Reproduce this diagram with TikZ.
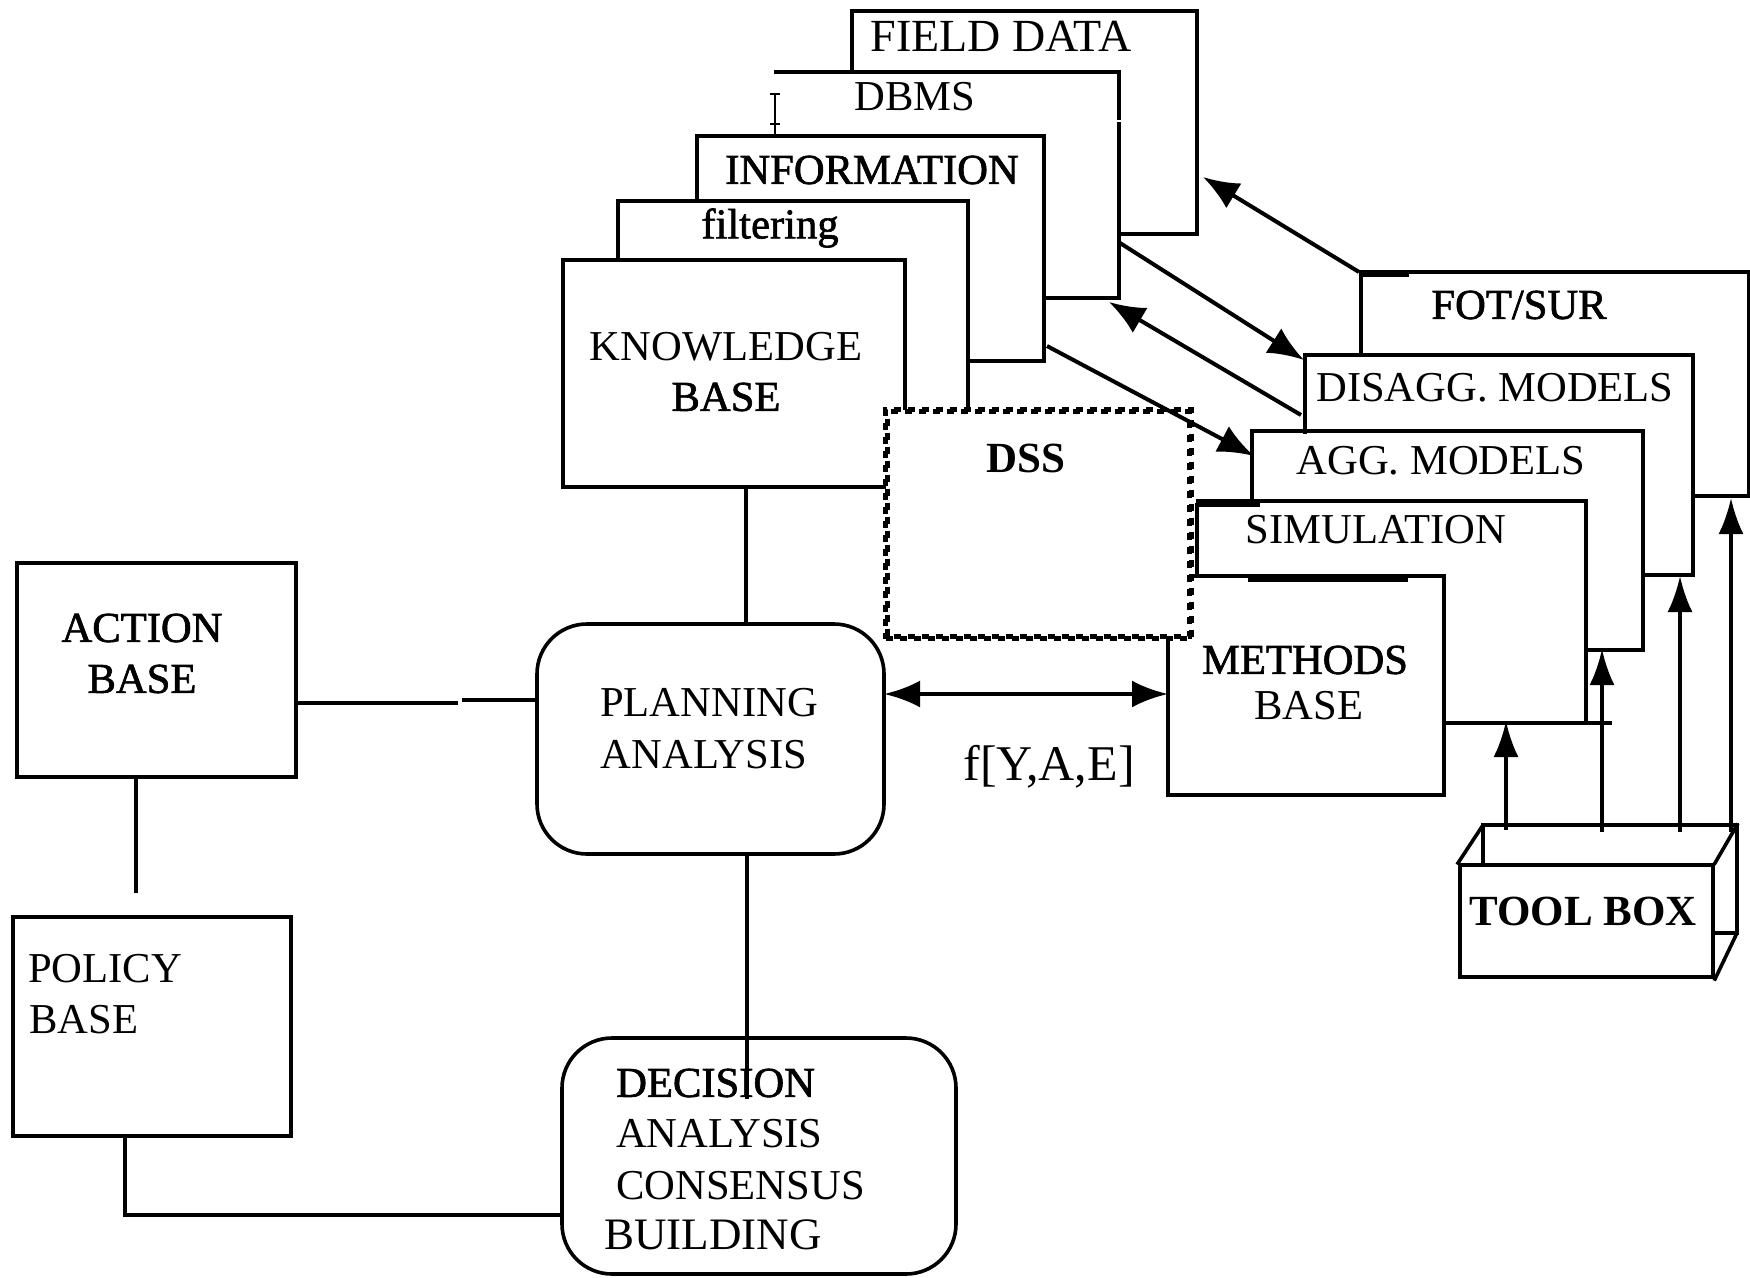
\documentclass[tikz,border=0pt]{standalone}
\usepackage{fontspec}
\setmainfont{Liberation Serif}
\newfontfamily\semibold[FakeBold=1.5]{Liberation Serif}
\usetikzlibrary{arrows.meta}
\tikzset{
  ln/.style={line width=3.6pt,line cap=rect,line join=miter},
  thin ln/.style={line width=2.5pt,line cap=rect},
  thick ln/.style={line width=4.6pt,line cap=rect,line join=miter},
  rectbox/.style={draw,line width=4pt,inner sep=0pt},
  roundbox/.style={draw,line width=3.6pt,rounded corners=50pt,inner sep=0pt},
  arr/.style={line width=4pt,-{Latex[length=36pt,width=29pt]}},
  uparr/.style={line width=3.6pt,-{Latex[length=36pt,width=25pt]}},
  lbl/.style={inner sep=0pt,font=\fontsize{42.6}{50}\selectfont},
  lblw/.style={lbl,font=\fontsize{42.6}{50}\selectfont\semibold},
  lblb/.style={lbl,font=\fontsize{43}{50}\selectfont\bfseries},
  checker/.style={line width=4.8pt,dash pattern=on 7pt off 7pt},
}
\begin{document}
\begin{tikzpicture}[x=1pt,y=-1pt]
\useasboundingbox (0,0) rectangle (1750,1277);
% stacked sheets, back part
\draw[ln] (852,71) -- (852,11) -- (1197,11) -- (1197,234) -- (1120,234);
\draw[ln] (776,72) -- (1119,72) -- (1119,118);
\draw[ln] (1119,124) -- (1119,298) -- (1046,298);
\draw[thin ln] (775,94) -- (775,133);
\draw[thin ln] (771,94) -- (779,94);
\draw[thin ln] (771,124) -- (779,124);
\draw[ln] (697,199) -- (697,136) -- (1044,136) -- (1044,361) -- (968,361);
\draw[ln] (618,258) -- (618,201) -- (968,201) -- (968,408);
\draw[thick ln] (905,408) -- (905,260) -- (563,260) -- (563,487) -- (884,487);
% right stack
\draw[ln] (1361,354) -- (1361,272) -- (1749,272) -- (1749,496) -- (1695,496);
\draw[ln] (1361,275) -- (1407,275);
\draw[ln] (1305,432) -- (1305,355) -- (1693,355) -- (1693,575) -- (1643,575);
\draw[ln] (1252,501) -- (1252,431) -- (1643,431) -- (1643,650) -- (1590,650);
\draw[thick ln] (1198,501) -- (1586,501) -- (1586,721);
\draw[ln] (1197,576) -- (1197,505) -- (1258,505);
\draw[thick ln] (1195,576) -- (1444,576) -- (1444,795) -- (1168,795) -- (1168,639);
\draw[ln] (1250,580) -- (1406,580);
\draw[thick ln] (1446,723) -- (1610,723);
% DSS
\node[draw,checker,minimum width=306pt,minimum height=229pt,inner sep=0pt] (dss) at (1038.5,524) {};
\draw[checker,dash phase=7pt] ([shift={(4.5,4.5)}]dss.north west) rectangle ([shift={(-4.5,-4.5)}]dss.south east);
% left boxes
\node[rectbox,minimum width=279pt,minimum height=214pt] (action) at (156.5,670) {};
\node[rectbox,minimum width=278pt,minimum height=219pt] (policy) at (152,1026.5) {};
\node[roundbox,minimum width=347pt,minimum height=230pt] (planning) at (710.5,739) {};
\node[roundbox,minimum width=394pt,minimum height=236pt] (decision) at (759,1156) {};
% toolbox
\node[rectbox,minimum width=253pt,minimum height=112pt] (toolfront) at (1586.5,921) {};
\coordinate (tbl) at (1483,825);
\coordinate (tbr) at (1737,825);
\coordinate (tbb) at (1737,933);
\draw[ln] (toolfront.north west) -- (tbl) -- (tbr) -- (tbb) -- (toolfront.south east);
\draw[ln] (toolfront.north east) -- (tbr);
\draw[ln] (tbl) -- (1483,865);
\draw[ln] (1713,933) -- (tbb);
% texts
\node[lbl,font=\fontsize{46}{50}\selectfont] (t1) at (1001,36) {FIELD DATA};
\node[lbl] (t2) at (915,97) {DBMS};
\node[lblw] (t3) at (872,170) {INFORMATION};
\node[lblw] (t4) at (770,228) {filtering};
\node[lbl] (t5) at (726,347) {KNOWLEDGE};
\node[lblw] (t6) at (726,397) {BASE};
\node[lblb] (t7) at (1026,458) {DSS};
\node[lblw] (t8) at (1519,305) {FOT/SUR};
\node[lbl] (t9) at (1495,388) {DISAGG. MODELS};
\node[lbl] (t10) at (1441,461) {AGG. MODELS};
\node[lbl] (t11) at (1376,530) {SIMULATION};
\node[lblw] (t12) at (1305,660) {METHODS};
\node[lbl] (t13) at (1309,706) {BASE};
\node[lbl,font=\fontsize{50}{50}\selectfont] (t14) at (1049,767) {f[Y,A,E]};
\node[lblb] (t15) at (1583,911) {TOOL BOX};
\node[lblw] (t16) at (142,628) {ACTION};
\node[lblw] (t17) at (142,679) {BASE};
\node[lbl,anchor=west] (t18) at (28,969) {POLICY};
\node[lbl,anchor=west] (t19) at (29,1020) {BASE};
\node[lbl] (t20) at (709,703) {PLANNING};
\node[lbl] (t21) at (704,755) {ANALYSIS};
\node[lblw,anchor=west] (t22) at (616,1083) {DECISION};
\node[lbl,anchor=west] (t23) at (616,1134) {ANALYSIS};
\node[lbl,anchor=west] (t24) at (616,1186) {CONSENSUS};
\node[lbl,anchor=west,font=\fontsize{45}{50}\selectfont] (t25) at (604,1235) {BUILDING};
% connectors
\coordinate (kbb) at (746,487);
\draw[ln,line cap=butt] (kbb) -- (kbb|-planning.north);
\coordinate (pb) at (747,854);
\coordinate (de) at (747,1099);
\draw[ln,line cap=butt] (pb) -- (de);
\coordinate (g1) at (458,703);
\coordinate (g2) at (462,700);
\draw[ln,line cap=butt] (action.east|-g1) -- (g1);
\draw[ln,line cap=butt] (g2) -- (planning.west|-g2);
\coordinate (ab) at (136,777);
\coordinate (ae) at (136,893);
\draw[ln,line cap=butt] (ab) -- (ae);
\coordinate (pl) at (125,1136);
\draw[ln,line cap=butt] (pl) -- (125,1215) -- (decision.west|-0,1215);
\coordinate (da) at (884,694);
\coordinate (db) at (1168,694);
\draw[line width=4.4pt,{Latex[length=36pt,width=27pt]}-{Latex[length=36pt,width=27pt]}] (da) -- (db);
\coordinate (a1s) at (1359,272); \coordinate (a1e) at (1203,177);
\coordinate (a2s) at (1120,243); \coordinate (a2e) at (1304,360);
\coordinate (a3s) at (1301,415); \coordinate (a3e) at (1109,302);
\coordinate (a4s) at (1047,346); \coordinate (a4e) at (1254,456);
\draw[arr] (a1s) -- (a1e);
\draw[arr] (a2s) -- (a2e);
\draw[arr] (a3s) -- (a3e);
\draw[arr] (a4s) -- (a4e);
\coordinate (u1) at (1506,721); \coordinate (u2) at (1602,649);
\coordinate (u3) at (1680,576); \coordinate (u4) at (1731,498);
\draw[uparr] (1506,830) -- (u1);
\draw[uparr] (1602,832) -- (u2);
\draw[uparr] (1680,832) -- (u3);
\draw[uparr] (1731,832) -- (u4);
\end{tikzpicture}
\end{document}
